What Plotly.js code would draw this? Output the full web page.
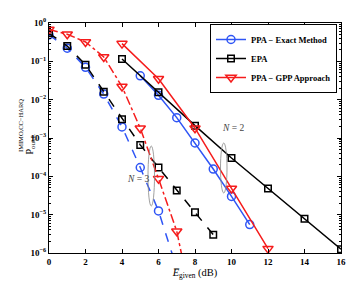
<!DOCTYPE html>
<html>
<head>
<meta charset="utf-8">
<script src="https://cdn.plot.ly/plotly-3.0.1.min.js"></script>
<style>html,body{margin:0;padding:0;background:#fff;}#chart{width:351px;height:281px;}</style>
</head>
<body>
<div id="chart"></div>
<script>
// N = 2 (solid)
const xExactN2 = [5, 6, 7, 8, 9, 10, 11];
const yExactN2 = [0.042, 0.013, 3.4e-3, 7.4e-4, 1.55e-4, 3.0e-5, 5.5e-6];
const xEpaN2 = [4, 6, 8, 10, 12, 14, 16];
const yEpaN2 = [0.115, 0.0155, 2.1e-3, 3.0e-4, 4.8e-5, 7.8e-6, 1.25e-6];
const xGppN2 = [4, 6, 8, 10, 12];
const yGppN2 = [0.29, 0.035, 1.8e-3, 4.8e-5, 1.3e-6];
// N = 3 (dashed)
const xExactN3 = [0, 1, 2, 3, 4, 5, 6, 7];
const yExactN3 = [0.49, 0.22, 0.07, 0.014, 1.95e-3, 1.7e-4, 1.25e-5, 4e-7];
const xEpaN3 = [0, 1, 2, 3, 4, 5, 6, 7, 8, 9];
const yEpaN3 = [0.54, 0.25, 0.081, 0.016, 3.1e-3, 6.6e-4, 1.7e-4, 4.3e-5, 1.15e-5, 3.0e-6];
const xGppN3 = [0, 1, 2, 3, 4, 5, 6, 7, 8];
const yGppN3 = [0.68, 0.51, 0.32, 0.13, 0.022, 1.8e-3, 8.7e-5, 3.7e-6, 2e-8];

const legendNames = ['PPA \u2212 Exact Method', 'EPA', 'PPA \u2212 GPP Approach'];
const xTicks = [0, 2, 4, 6, 8, 10, 12, 14, 16];
const yTickVals = [1e-6, 1e-5, 1e-4, 1e-3, 1e-2, 1e-1, 1];
const yTickText = ['10<sup>\u22126</sup>', '10<sup>\u22125</sup>', '10<sup>\u22124</sup>', '10<sup>\u22123</sup>',
                   '10<sup>\u22122</sup>', '10<sup>\u22121</sup>', '10<sup>0</sup>'];

const BLUE = '#2f55f5', BLACK = '#000000', RED = '#f51c1c';
const FONT = 'Liberation Serif, Times New Roman, serif';

function tr(x, y, color, sym, size, dash, name, show) {
  return {
    x: x, y: y, type: 'scatter', mode: 'lines+markers', name: name,
    showlegend: show, legendgroup: name,
    line: {color: color, width: 1.5, dash: dash},
    marker: {symbol: sym, size: size, color: color, line: {color: color, width: 1.5}}
  };
}

const data = [
  tr(xExactN2, yExactN2, BLUE, 'circle-open', 8, 'solid', legendNames[0], true),
  tr(xEpaN2, yEpaN2, BLACK, 'square-open', 6.5, 'solid', legendNames[1], true),
  tr(xGppN2, yGppN2, RED, 'triangle-down-open', 9, 'solid', legendNames[2], true),
  tr(xExactN3, yExactN3, BLUE, 'circle-open', 8, 'dash', legendNames[0], false),
  tr(xEpaN3, yEpaN3, BLACK, 'square-open', 6.5, 'dash', legendNames[1], false),
  tr(xGppN3, yGppN3, RED, 'triangle-down-open', 9, 'dashdot', legendNames[2], false)
];

function px2paperX(p) { return (p - 49) / 292; }
function px2paperY(p) { return (253 - p) / 230; }

const layout = {
  width: 351, height: 281,
  margin: {l: 49, r: 10, t: 23, b: 28},
  paper_bgcolor: '#fff', plot_bgcolor: '#fff',
  font: {family: FONT, color: '#000'},
  showlegend: true,
  legend: {
    x: px2paperX(337), y: px2paperY(24), xanchor: 'right', yanchor: 'top',
    bgcolor: '#fff', bordercolor: '#000', borderwidth: 1,
    font: {family: FONT, size: 8.5, weight: 'bold'},
    itemwidth: 30, tracegroupgap: 0
  },
  xaxis: {
    range: [0, 16], tickvals: xTicks, ticktext: xTicks.map(String),
    ticks: 'inside', ticklen: 4, tickcolor: '#000', showgrid: false, zeroline: false,
    showline: true, linecolor: '#000', linewidth: 1, mirror: 'ticks',
    tickfont: {family: FONT, size: 9, weight: 'bold'},
    title: {text: '<i>E\u0305</i><sub>given</sub> (dB)', font: {family: FONT, size: 10.5}, standoff: 2}
  },
  yaxis: {
    type: 'log', range: [-6, 0], tickmode: 'array', tickvals: yTickVals, ticktext: yTickText,
    ticks: 'inside', ticklen: 4, tickcolor: '#000', showgrid: false, zeroline: false,
    showline: true, linecolor: '#000', linewidth: 1, mirror: 'ticks',
    tickfont: {family: FONT, size: 9, weight: 'bold'},
    minor: {ticks: 'inside', ticklen: 2, tickcolor: '#000', showgrid: false, dtick: 'D1'}
  },
  annotations: [
    {xref: 'paper', yref: 'paper', x: px2paperX(21), y: px2paperY(144), text: 'P<sub>out,L</sub>',
     showarrow: false, textangle: -90, font: {family: FONT, size: 10}},
    {xref: 'paper', yref: 'paper', x: px2paperX(15.5), y: px2paperY(126), text: 'IMIMO,CC\u2212HARQ',
     showarrow: false, textangle: -90, font: {family: FONT, size: 6.5}},
    {xref: 'paper', yref: 'paper', x: px2paperX(246), y: px2paperY(128), text: '<i>N</i> = 2',
     showarrow: false, font: {family: FONT, size: 9.5, color: '#444'}},
    {xref: 'paper', yref: 'paper', x: px2paperX(124.5), y: px2paperY(186), text: '<i>N</i> = 3',
     showarrow: false, font: {family: FONT, size: 9.5, color: '#444'}}
  ],
  shapes: [
    {type: 'circle', xref: 'paper', yref: 'paper', x0: px2paperX(220.5), x1: px2paperX(227), y0: px2paperY(193), y1: px2paperY(143),
     line: {color: '#888', width: 0.8}},
    {type: 'circle', xref: 'paper', yref: 'paper', x0: px2paperX(148), x1: px2paperX(154.5), y0: px2paperY(206), y1: px2paperY(146),
     line: {color: '#888', width: 0.8}}
  ]
};

Plotly.newPlot('chart', data, layout, {displayModeBar: false, staticPlot: true});
</script>
</body>
</html>
